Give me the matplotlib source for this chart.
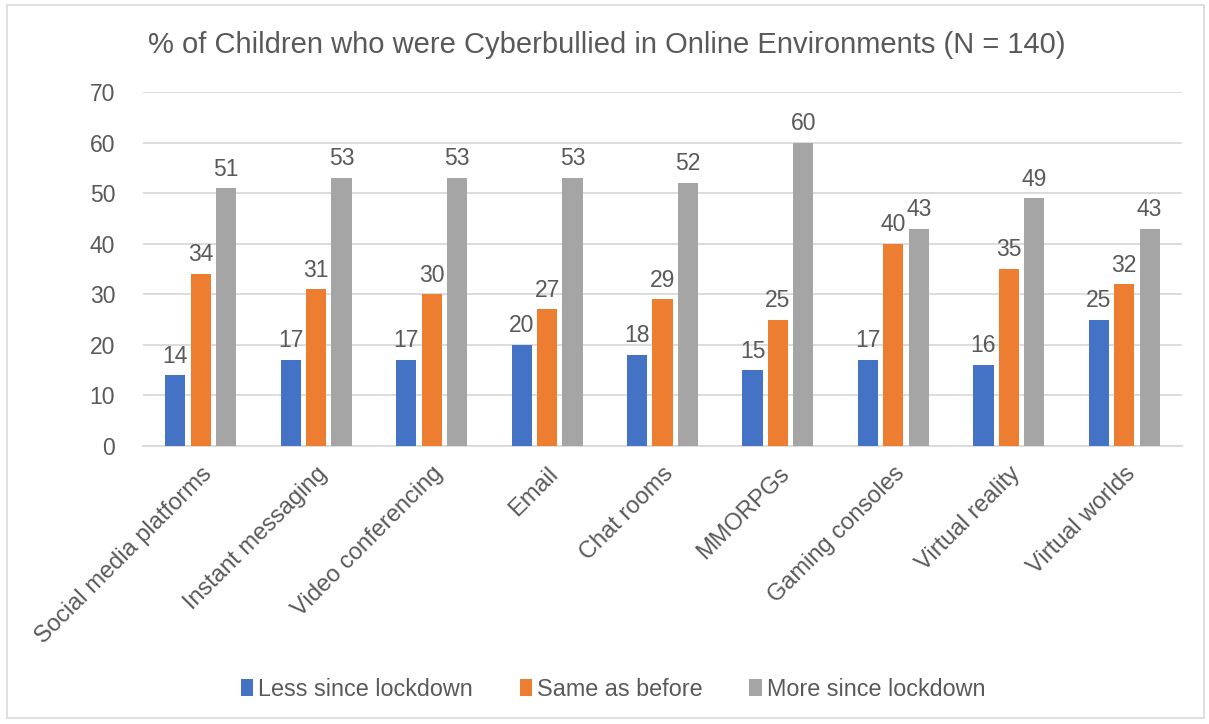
import matplotlib
matplotlib.use("Agg")
import matplotlib.pyplot as plt
import numpy as np
from matplotlib.patches import Rectangle

categories = ["Social media platforms", "Instant messaging", "Video conferencing", "Email",
              "Chat rooms", "MMORPGs", "Gaming consoles", "Virtual reality", "Virtual worlds"]
less = [14, 17, 17, 20, 18, 15, 17, 16, 25]
same = [34, 31, 30, 27, 29, 25, 40, 35, 32]
more = [51, 53, 53, 53, 52, 60, 43, 49, 43]
series_names = ["Less since lockdown", "Same as before", "More since lockdown"]
colors = ["#4472C4", "#ED7D31", "#A5A5A5"]
yticks = [0, 10, 20, 30, 40, 50, 60, 70]

plt.rcParams['font.family'] = ['Liberation Sans', 'DejaVu Sans']
txt = "#595959"

fig = plt.figure(figsize=(12.09, 7.24), dpi=100)
fig.patches.append(Rectangle((7/1209, 1-718/724), 1197/1209, 713/724, transform=fig.transFigure,
                             fill=False, edgecolor="#D9D9D9", linewidth=1.2))
ax = fig.add_axes([143/1209, 1-446/724, (1182-143)/1209, (446-92)/724])

x = np.arange(len(categories))
w = 0.175
step = 0.22
for i, (vals, c, name) in enumerate(zip([less, same, more], colors, series_names)):
    pos = x + (i - 1) * step
    ax.bar(pos, vals, width=w, color=c, label=name, zorder=3)
    for p, v in zip(pos, vals):
        ax.text(p, v + 1.5, str(v), ha="center", va="bottom", fontsize=16.5, color=txt)

ax.set_xlim(-0.5, len(categories) - 0.5)
ax.set_ylim(0, 70)
ax.set_yticks(yticks)
ax.set_yticklabels([str(t) for t in yticks], fontsize=16.5, color=txt)
ax.grid(axis="y", color="#D9D9D9", linewidth=1.3, zorder=0)
ax.tick_params(axis="both", length=0)
ax.tick_params(axis="y", pad=20)
for s in ["top", "right", "left"]:
    ax.spines[s].set_visible(False)
ax.spines["bottom"].set_color("#D9D9D9")
ax.spines["bottom"].set_linewidth(1.3)
ax.set_xticks(x)
ax.set_xticklabels(categories, rotation=45, ha="right", rotation_mode="anchor",
                   fontsize=17, color=txt)
ax.tick_params(axis="x", pad=12)

fig.text(148/1209, 1-45/724, "% of Children who were Cyberbullied in Online Environments (N = 140)",
         fontsize=21, color=txt, ha="left", va="center")

fig.legend(loc="center", bbox_to_anchor=(0.507, 1-689/724), ncol=3, frameon=False,
           fontsize=16.8, handlelength=0.55, handleheight=0.7, handletextpad=0.2,
           columnspacing=2.0, labelcolor=txt)

fig.savefig("out.png", dpi=100)
